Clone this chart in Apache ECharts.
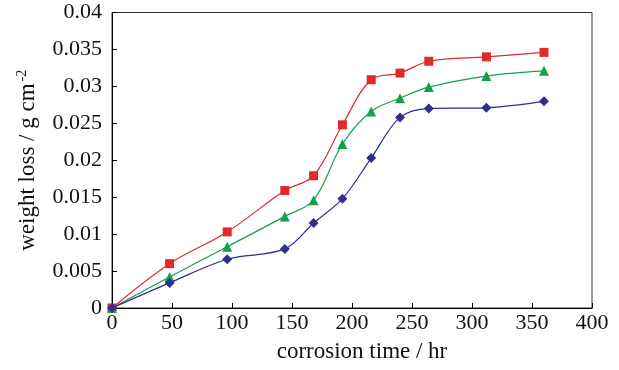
<!DOCTYPE html>
<html>
<head>
<meta charset="utf-8">
<script src="https://cdn.jsdelivr.net/npm/echarts@6/dist/echarts.min.js"></script>
<style>html,body{margin:0;padding:0;background:#fff;}#c{width:619px;height:370px;}</style>
</head>
<body>
<div id="c"></div>
<script>
var times = [0, 48, 96, 144, 168, 192, 216, 240, 264, 312, 360];
var redValues = [0, 0.0060, 0.0103, 0.0159, 0.0179, 0.0248, 0.0309, 0.0318, 0.0334, 0.0340, 0.0346];
var greenValues = [0, 0.0042, 0.0083, 0.0124, 0.0146, 0.0222, 0.0266, 0.0284, 0.0299, 0.0314, 0.0321];
var blueValues = [0, 0.0034, 0.0066, 0.0080, 0.0115, 0.0148, 0.0203, 0.0258, 0.0270, 0.0271, 0.0280];
var xTickLabels = ['0', '50', '100', '150', '200', '250', '300', '350', '400'];
var yTickLabels = ['0', '0.005', '0.01', '0.015', '0.02', '0.025', '0.03', '0.035', '0.04'];

function pairs(vals) { return times.map(function (t, i) { return [t, vals[i]]; }); }

var font = 'Liberation Serif';
var chart = echarts.init(document.getElementById('c'), null, {renderer: 'canvas'});
chart.setOption({
  animation: false,
  backgroundColor: '#fff',
  grid: {left: 112, right: 27, top: 12.5, bottom: 62, show: true, borderColor: '#333', borderWidth: 1},
  xAxis: {
    type: 'value', min: 0, max: 400, interval: 50,
    axisLine: {show: true, lineStyle: {color: '#000', width: 1}},
    axisTick: {show: true, inside: true, length: 5, lineStyle: {color: '#000'}},
    splitLine: {show: false},
    axisLabel: {color: '#111', fontFamily: font, fontSize: 22, margin: 4,
      formatter: function (v) { return xTickLabels[Math.round(v / 50)]; }},
    name: 'corrosion time / hr', nameLocation: 'middle', nameGap: 32,
    nameTextStyle: {color: '#111', fontFamily: font, fontSize: 23, padding: [0, 0, 0, 20]}
  },
  yAxis: {
    type: 'value', min: 0, max: 0.04, interval: 0.005,
    axisLine: {show: true, lineStyle: {color: '#000', width: 1}},
    axisTick: {show: true, inside: true, length: 5, lineStyle: {color: '#000'}},
    splitLine: {show: false},
    axisLabel: {color: '#111', fontFamily: font, fontSize: 22, margin: 10,
      formatter: function (v) { return yTickLabels[Math.round(v / 0.005)]; }},
    name: '{a|weight loss / g cm}{s|-2}', nameLocation: 'middle', nameGap: 71,
    nameTextStyle: {color: '#111', fontFamily: font, fontSize: 23,
      rich: {a: {fontFamily: font, fontSize: 23, color: '#111'},
             s: {fontFamily: font, fontSize: 14, color: '#111', verticalAlign: 'top', padding: [0, 0, 12, 2]}}}
  },
  series: [
    {type: 'line', data: pairs(redValues), smooth: 0.35, symbol: 'rect', symbolSize: 9,
     itemStyle: {color: '#e02a2a'}, lineStyle: {color: '#e02a2a', width: 1.2}, z: 3},
    {type: 'line', data: pairs(greenValues), smooth: 0.35, symbol: 'triangle', symbolSize: 10,
     itemStyle: {color: '#12a04a'}, lineStyle: {color: '#12a04a', width: 1.2}, z: 4},
    {type: 'line', data: pairs(blueValues), smooth: 0.35, symbol: 'diamond', symbolSize: 10,
     itemStyle: {color: '#2e2f8f'}, lineStyle: {color: '#2e2f8f', width: 1.2}, z: 5}
  ]
});
</script>
</body>
</html>
